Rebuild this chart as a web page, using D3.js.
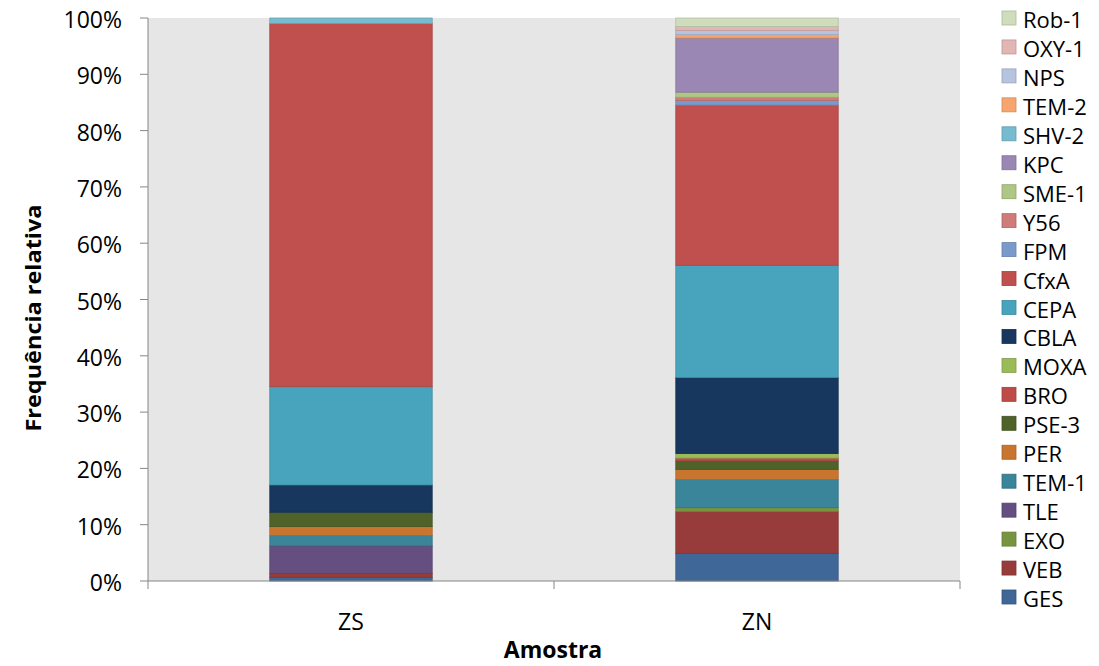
<!DOCTYPE html>
<html><head><meta charset="utf-8">
<script src="https://cdn.jsdelivr.net/npm/d3@7"></script>
<style>body{margin:0;background:#fff}svg{display:block}text{font-family:"Open Sans",sans-serif;fill:#000}</style>
</head><body><svg id="c" width="1099" height="666"></svg>
<script>
const categories = ["ZS", "ZN"];
const genes = ["GES","VEB","EXO","TLE","TEM-1","PER","PSE-3","BRO","MOXA","CBLA","CEPA","CfxA","FPM","Y56","SME-1","KPC","SHV-2","TEM-2","NPS","OXY-1","Rob-1"];
const zsValues = [0.66,0.7,0,4.9,1.8,1.6,2.55,0,0,4.85,17.45,64.5,0,0,0,0,0.99,0,0,0,0];
const znValues = [4.9,7.4,0.7,0,5.0,1.8,1.5,0.5,0.8,13.5,19.9,28.4,0.8,0.6,0.9,9.6,0,0.6,0.75,0.7,1.5];
const colors = ["#3F6797","#973C3B","#779440","#644F80","#3A8599","#C8752F","#4F6229","#BE4B48","#9BBB59","#17375E","#47A4BC","#C0504D","#7A9ACB","#CF7B79","#AFC784","#9A87B3","#77BBCF","#F7A56E","#B6C4E0","#E2B6B5","#CFDDBC"];
const yTicks = [0,0.1,0.2,0.3,0.4,0.5,0.6,0.7,0.8,0.9,1];

const svg = d3.select("#c");
const L = 148, R = 960, T = 18, B = 581;

const rows = categories.map((c, i) => {
  const o = {cat: c};
  const vals = i === 0 ? zsValues : znValues;
  genes.forEach((g, j) => o[g] = vals[j]);
  return o;
});
const stack = d3.stack().keys(genes).offset(d3.stackOffsetExpand)(rows);

const x = d3.scaleBand().domain(categories).range([L, R]).paddingInner(0).paddingOuter(0);
const y = d3.scaleLinear().domain([0, 1]).range([B, T]);
const color = d3.scaleOrdinal().domain(genes).range(colors);
const barW = x.bandwidth() * 0.4;

svg.append("rect").attr("x", L).attr("y", T).attr("width", R - L).attr("height", B - T).attr("fill", "#E6E6E6");

const g = svg.append("g");
stack.forEach(layer => {
  g.selectAll(null).data(layer).enter().append("rect")
    .attr("x", d => x(d.data.cat) + (x.bandwidth() - barW) / 2)
    .attr("y", d => y(d[1]))
    .attr("width", barW)
    .attr("height", d => Math.max(0, y(d[0]) - y(d[1])))
    .attr("fill", color(layer.key))
    .attr("stroke", d3.color(color(layer.key)).darker(0.4))
    .attr("stroke-width", d => (d[1] - d[0]) > 0 ? 0.8 : 0);
});

// axes
const axisCol = "#868686";
svg.append("line").attr("x1", L).attr("x2", L).attr("y1", T).attr("y2", B).attr("stroke", axisCol);
svg.append("line").attr("x1", L).attr("x2", R).attr("y1", B).attr("y2", B).attr("stroke", axisCol);
yTicks.forEach(t => {
  svg.append("line").attr("x1", L - 8).attr("x2", L).attr("y1", y(t)).attr("y2", y(t)).attr("stroke", axisCol);
  svg.append("text").attr("text-anchor", "end").attr("dominant-baseline", "central")
    .attr("font-size", 23)
    .attr("x", 122).attr("y", y(t) + 1)
    .text(d3.format(".0%")(t));
});
[L, (L + R) / 2, R].forEach(v => {
  svg.append("line").attr("x1", v).attr("x2", v).attr("y1", B).attr("y2", B + 8).attr("stroke", axisCol);
});
categories.forEach(c => {
  svg.append("text").attr("text-anchor", "middle").attr("dominant-baseline", "central")
    .attr("font-size", 23)
    .attr("x", x(c) + x.bandwidth() / 2).attr("y", 621)
    .text(c);
});
svg.append("text").attr("text-anchor", "middle").attr("font-size", 23).attr("font-weight", "bold")
  .attr("x", 553).attr("y", 658).text("Amostra");
svg.append("text").attr("text-anchor", "middle").attr("font-size", 22).attr("font-weight", "bold")
  .attr("transform", `translate(${41},${318}) rotate(-90)`)
  .attr("textLength", 227).attr("lengthAdjust", "spacingAndGlyphs")
  .text("Frequência relativa");

// legend (top = last gene)
const legendKeys = genes.slice().reverse();
const ly = d3.scalePoint().domain(legendKeys).range([18, 597]);
legendKeys.forEach(k => {
  svg.append("rect").attr("x", 1002).attr("y", ly(k) - 7).attr("width", 14).attr("height", 14)
    .attr("fill", color(k)).attr("stroke", d3.color(color(k)).darker(0.5)).attr("stroke-width", 0.8);
  svg.append("text").attr("dominant-baseline", "central").attr("font-size", 22)
    .attr("x", 1023).attr("y", ly(k) + 1)
    .text(k);
});
</script></body></html>
